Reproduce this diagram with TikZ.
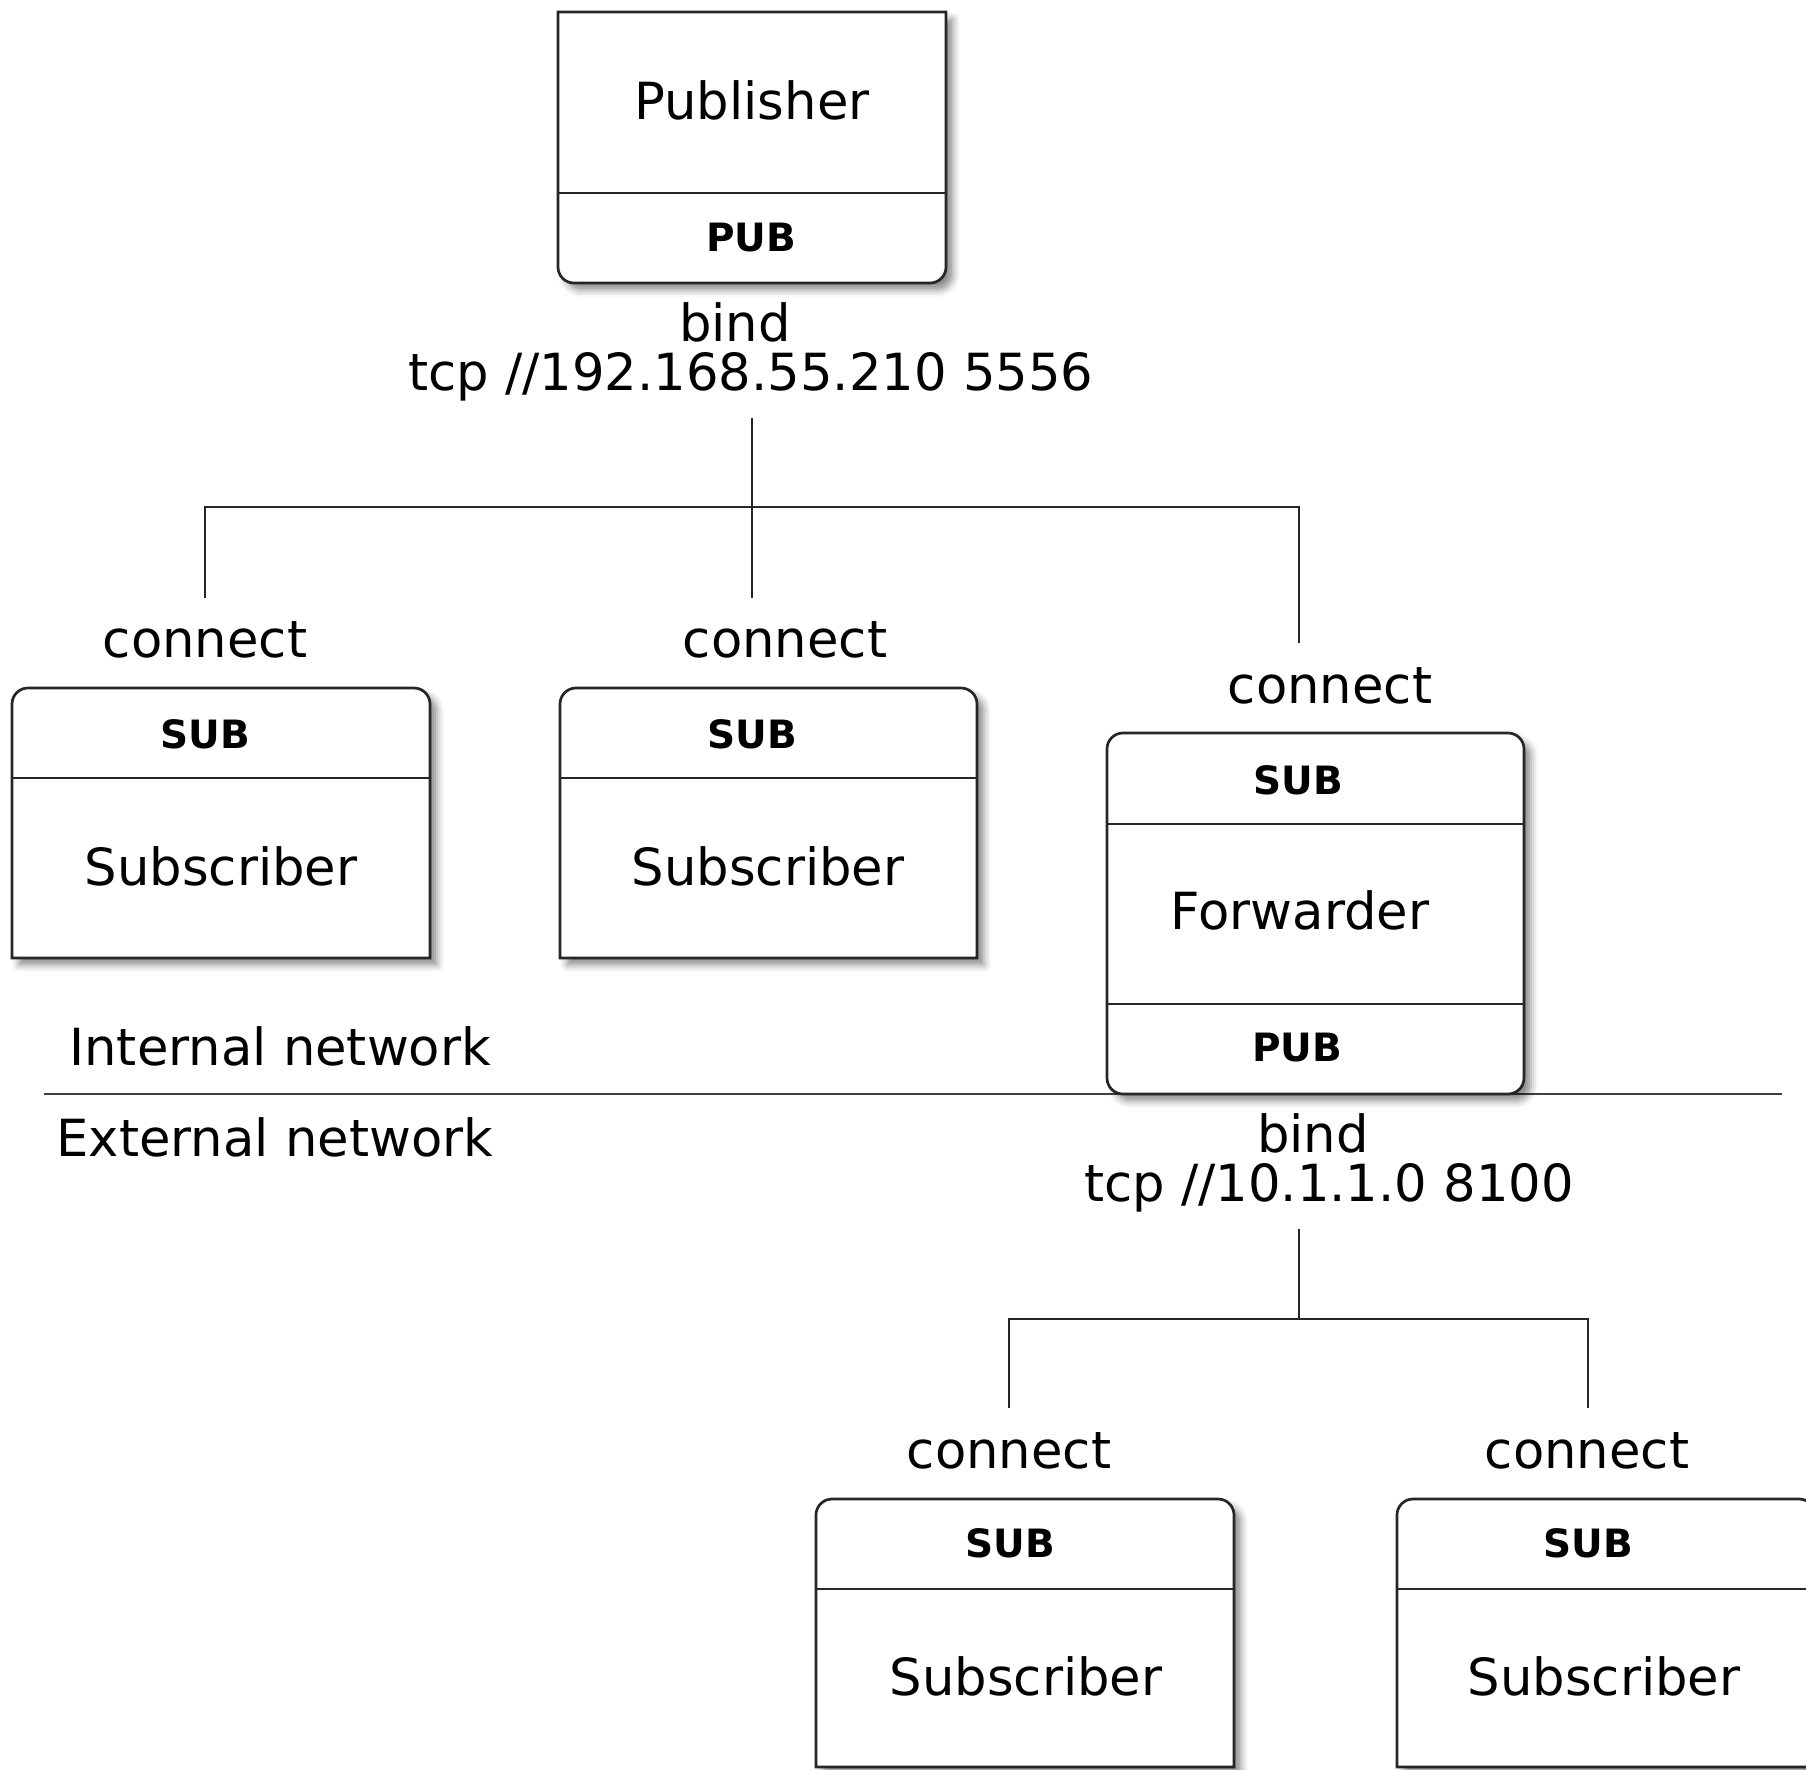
\documentclass[tikz,border=0pt]{standalone}
\usepackage{fontspec}
\setmainfont{DejaVu Sans}
\usetikzlibrary{shadows.blur}
\tikzset{
  boxst/.style={draw=black!85, line width=1.35pt, fill=white,
    blur shadow={shadow xshift=3.5pt, shadow yshift=-3.5pt, shadow blur radius=3.5pt, shadow opacity=45}},
  divst/.style={draw=black!85, line width=1.25pt},
  wire/.style={draw=black!85, line width=1pt},
  netline/.style={draw=black!75, line width=1pt},
  txt/.style={inner sep=0pt, font=\fontsize{25.6}{31}\selectfont},
  port/.style={inner sep=0pt, font=\bfseries\fontsize{19.5}{23}\selectfont},
}
\begin{document}
\begin{tikzpicture}[x=0.5pt,y=-0.5pt]
\useasboundingbox (0,0) rectangle (1806,1769);
\clip (0,0) rectangle (1806,1769);

% ---------- connectors, upper tree ----------
\coordinate (t1top) at (752,418);
\coordinate (t1j)   at (752,507);
\coordinate (t1l)   at (205,507);
\coordinate (t1r)   at (1299,507);
\coordinate (t1le)  at (205,598);
\coordinate (t1me)  at (752,598);
\coordinate (t1re)  at (1299,643);
\draw[wire] (t1top) -- (t1me);
\draw[wire] (t1le) -- (t1l) -- (t1r) -- (t1re);

% ---------- connectors, lower tree ----------
\coordinate (t2top) at (1299,1229);
\coordinate (t2j)   at (1299,1319);
\coordinate (t2l)   at (1009,1319);
\coordinate (t2r)   at (1588,1319);
\coordinate (t2le)  at (1009,1408);
\coordinate (t2re)  at (1588,1408);
\draw[wire] (t2top) -- (t2j);
\draw[wire] (t2le) -- (t2l) -- (t2r) -- (t2re);

% ---------- network divider ----------
\coordinate (netL) at (44,1094);
\coordinate (netR) at (1782,1094);
\draw[netline] (netL) -- (netR);

% ---------- Publisher box (bottom corners rounded) ----------
\draw[boxst] (558,12) -- (946,12) -- (946,267) arc[start angle=0,end angle=90,radius=16]
  -- (574,283) arc[start angle=90,end angle=180,radius=16] -- cycle;
\draw[divst] (558,193) -- (946,193);

% ---------- Subscriber 1 (top corners rounded) ----------
\draw[boxst] (12,958) -- (12,704) arc[start angle=180,end angle=270,radius=16]
  -- (414,688) arc[start angle=270,end angle=360,radius=16] -- (430,958) -- cycle;
\draw[divst] (12,778) -- (430,778);

% ---------- Subscriber 2 ----------
\draw[boxst] (560,958) -- (560,704) arc[start angle=180,end angle=270,radius=16]
  -- (961,688) arc[start angle=270,end angle=360,radius=16] -- (977,958) -- cycle;
\draw[divst] (560,778) -- (977,778);

% ---------- Forwarder (all corners rounded) ----------
\draw[boxst] (1107,749) arc[start angle=180,end angle=270,radius=16]
  -- (1508,733) arc[start angle=270,end angle=360,radius=16]
  -- (1524,1078) arc[start angle=0,end angle=90,radius=16]
  -- (1123,1094) arc[start angle=90,end angle=180,radius=16] -- cycle;
\draw[divst] (1107,824) -- (1524,824);
\draw[divst] (1107,1004) -- (1524,1004);

% ---------- Subscriber 3 ----------
\draw[boxst] (816,1767) -- (816,1515) arc[start angle=180,end angle=270,radius=16]
  -- (1218,1499) arc[start angle=270,end angle=360,radius=16] -- (1234,1767) -- cycle;
\draw[divst] (816,1589) -- (1234,1589);

% ---------- Subscriber 4 (cut by right edge) ----------
\draw[boxst] (1397,1767) -- (1397,1515) arc[start angle=180,end angle=270,radius=16]
  -- (1799,1499) arc[start angle=270,end angle=360,radius=16] -- (1815,1767) -- cycle;
\draw[divst] (1397,1589) -- (1815,1589);

% ---------- texts ----------
\node[txt]  (pubname) at (752,100) {Publisher};
\node[port] (pubport) at (751,238) {PUB};
\node[txt]  (bind1)   at (735,322) {bind};
\node[txt]  (addr1)   at (751,377) {tcp //192.168.55.210 5556};

\node[txt]  (conn1) at (205,640) {connect};
\node[txt]  (conn2) at (785,640) {connect};
\node[txt]  (conn3) at (1330,686) {connect};

\node[port] (sub1port) at (205,734) {SUB};
\node[txt]  (sub1name) at (221,866) {Subscriber};
\node[port] (sub2port) at (752,734) {SUB};
\node[txt]  (sub2name) at (768,866) {Subscriber};

\node[port] (fwdsub)  at (1298,780) {SUB};
\node[txt]  (fwdname) at (1300,910) {Forwarder};
\node[port] (fwdpub)  at (1297,1048) {PUB};

\node[txt, anchor=west] (internal) at (69,1046) {Internal network};
\node[txt, anchor=west] (external) at (56,1137) {External network};

\node[txt] (bind2) at (1313,1133) {bind};
\node[txt] (addr2) at (1329,1188) {tcp //10.1.1.0 8100};

\node[txt] (conn4) at (1009,1451) {connect};
\node[txt] (conn5) at (1587,1451) {connect};

\node[port] (sub3port) at (1010,1543) {SUB};
\node[txt]  (sub3name) at (1026,1676) {Subscriber};
\node[port] (sub4port) at (1588,1543) {SUB};
\node[txt]  (sub4name) at (1604,1676) {Subscriber};
\end{tikzpicture}
\end{document}
